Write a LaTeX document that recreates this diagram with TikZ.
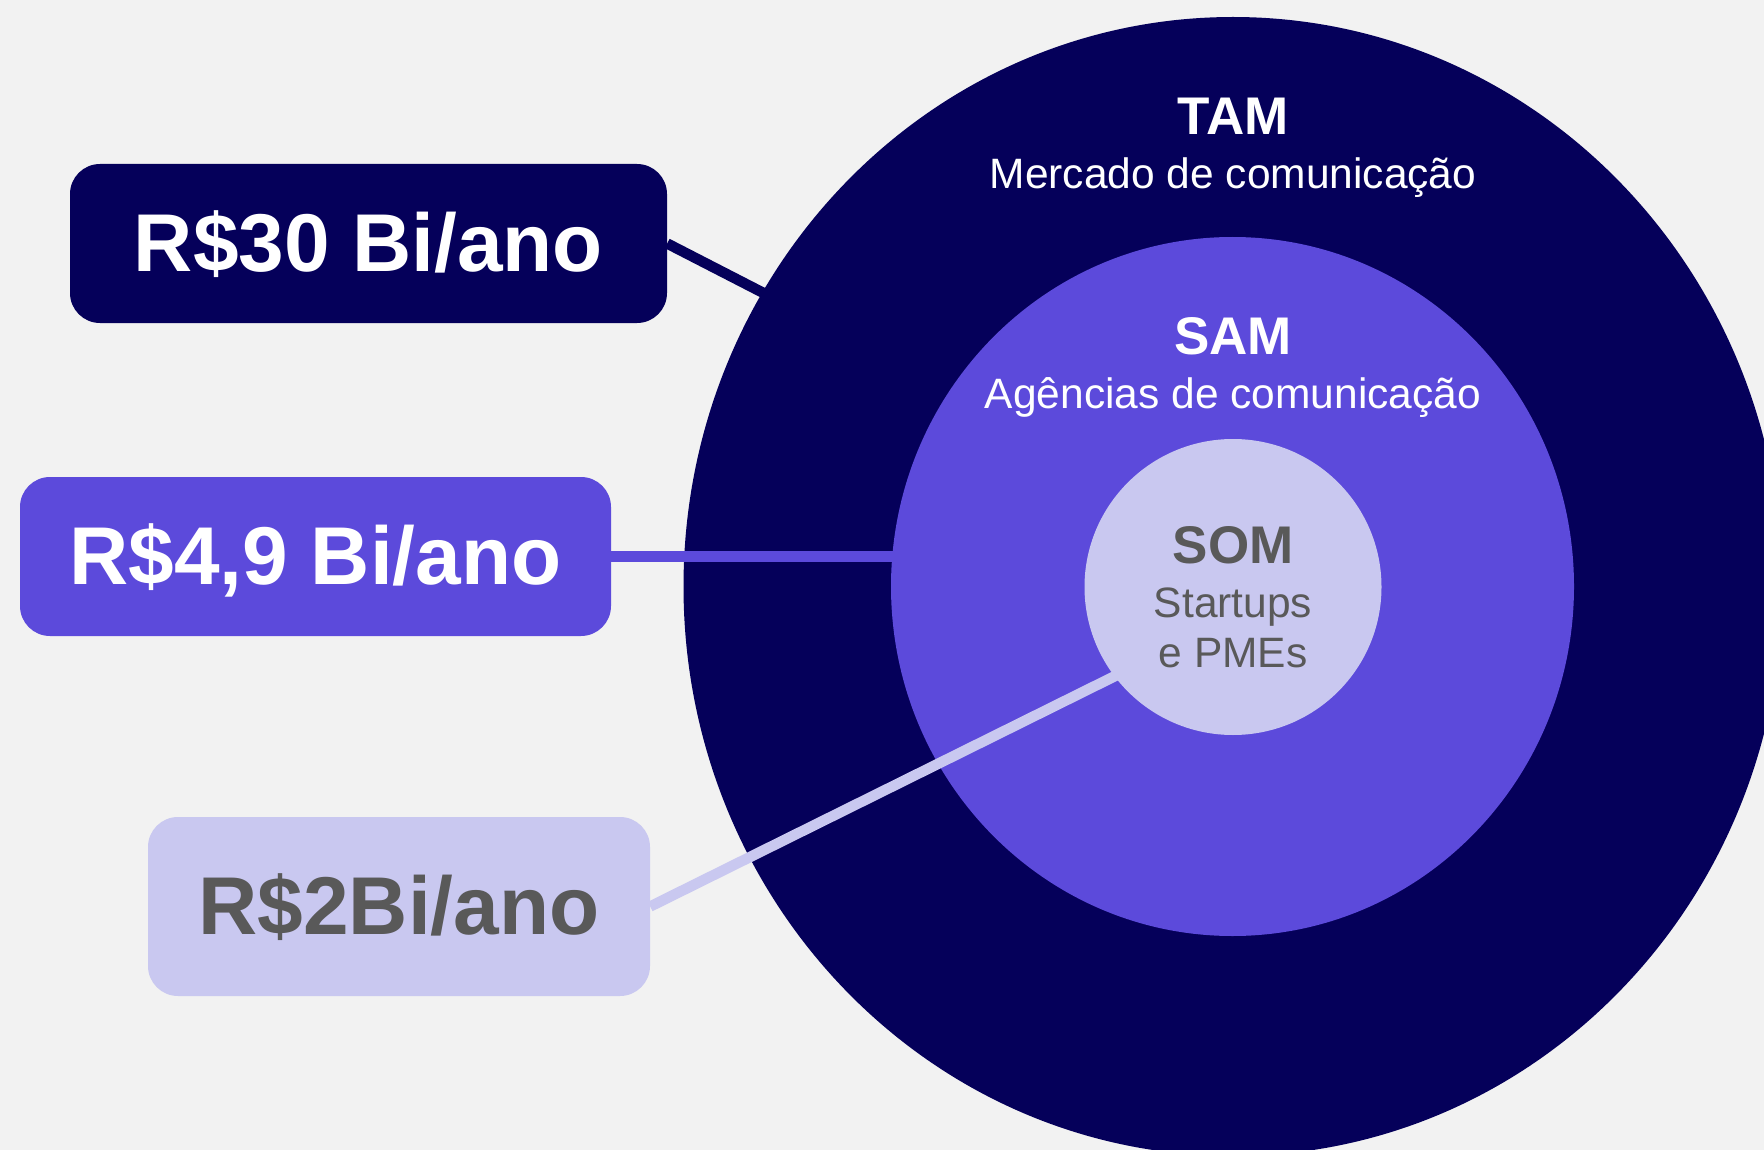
\documentclass[tikz,border=0pt]{standalone}
\usepackage{fontspec}
\setmainfont{Liberation Sans}
\usepackage{tikz}
\usetikzlibrary{shapes.geometric}

\definecolor{navy}{HTML}{05005A}
\definecolor{violet}{HTML}{5C4ADB}
\definecolor{lavender}{HTML}{C9C8F0}
\definecolor{greytxt}{HTML}{595959}
\definecolor{paper}{HTML}{F2F2F2}

\begin{document}
\begin{tikzpicture}[x = 1pt, y = -1pt,
        ring/.style = {ellipse, inner sep = 0pt},
        valbox/.style = {rounded corners = 30pt, inner sep = 0pt,
            text height = 66pt, text depth = 10pt,
            font = \fontsize{82}{82}\selectfont\bfseries},
        headtxt/.style = {anchor = base, font = \fontsize{53}{53}\selectfont\bfseries},
        subtxt/.style = {anchor = base, font = \fontsize{42.5}{50}\selectfont},
        connector/.style = {line width = 10.5pt, shorten > = -6pt}]

        \clip (0, 0) rectangle (1764, 1150);
        \fill[paper] (0, 0) rectangle (1764, 1150);

        % market circles
        \node[ring, fill = navy, minimum width = 1099pt, minimum height = 1139pt] (tam) at (1233, 586.5) {};
        \node[ring, fill = violet, minimum width = 683pt, minimum height = 699pt] (sam) at (1232.5, 586.5) {};
        \node[ring, fill = lavender, minimum width = 297pt, minimum height = 296pt] (som) at (1233, 587) {};

        \node[headtxt, text = white] (tamtitle) at (1233, 135) {TAM};
        \node[subtxt, text = white] (tamsub) at (1233, 189) {Mercado de comunicação};
        \node[headtxt, text = white] (samtitle) at (1233, 354) {SAM};
        \node[subtxt, text = white] (samsub) at (1233, 408) {Agências de comunicação};
        \node[headtxt, text = greytxt] (somtitle) at (1233, 563) {SOM};
        \node[subtxt, text = greytxt] (somsub) at (1233, 617) {Startups};
        \node[subtxt, text = greytxt] (somsubb) at (1233, 667) {e PMEs};

        % values
        \coordinate (tamedge) at (tam.148);

        \node[valbox, fill = navy, text = white, minimum width = 597pt, minimum height = 159pt] (vthirty) at (368.5, 243.5) {R\$30 Bi/ano};
        \node[valbox, fill = violet, text = white, minimum width = 591pt, minimum height = 159pt] (vfour) at (315.5, 556.5) {R\$4,9 Bi/ano};
        \node[valbox, fill = lavender, text = greytxt, minimum width = 502pt, minimum height = 179pt] (vtwo) at (399, 906.5) {R\$2Bi/ano};

        \draw[connector, navy] (vthirty.east) -- (tamedge);
        \draw[connector, violet] (vfour.east) -- (vfour.east -| sam.west);
        \draw[connector, lavender] (vtwo.east) -- (som.217.6);
    \end{tikzpicture}
\end{document}
